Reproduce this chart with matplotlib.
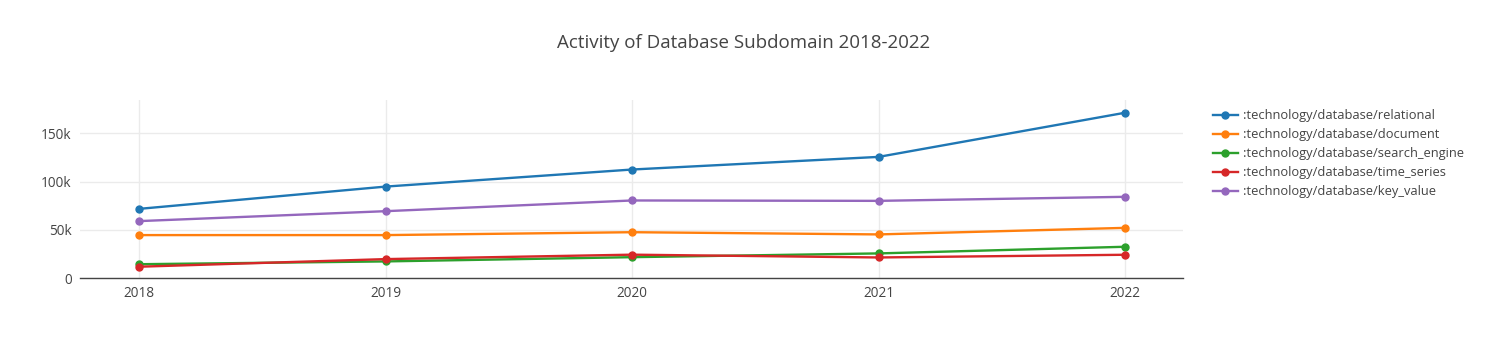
import matplotlib
matplotlib.use("Agg")
import matplotlib.pyplot as plt
from matplotlib.ticker import FuncFormatter

plt.rcParams['font.family'] = ['Open Sans', 'DejaVu Sans']

years = [2018, 2019, 2020, 2021, 2022]
relational = [71700, 94800, 112500, 125600, 171400]
document = [44500, 44500, 47500, 45200, 52000]
search_engine = [14300, 17200, 21600, 25500, 32400]
time_series = [11700, 19600, 24200, 21300, 24100]
key_value = [59000, 69300, 80400, 80000, 84200]

series = [
    (":technology/database/relational", relational, "#1f77b4"),
    (":technology/database/document", document, "#ff7f0e"),
    (":technology/database/search_engine", search_engine, "#2ca02c"),
    (":technology/database/time_series", time_series, "#d62728"),
    (":technology/database/key_value", key_value, "#9467bd"),
]

fig = plt.figure(figsize=(14.88, 3.6), dpi=100)
ax = fig.add_axes([80 / 1488, 82 / 360, 1103 / 1488, 178 / 360])

for name, vals, col in series:
    ax.plot(years, vals, color=col, lw=1.7, marker="o", ms=5, label=name)

ax.set_xlim(2017.76, 2022.235)
ax.set_ylim(0, 184600)
ax.set_xticks(years)
ax.set_yticks([0, 50000, 100000, 150000])
ax.yaxis.set_major_formatter(FuncFormatter(lambda v, p: "0" if v == 0 else f"{int(v / 1000)}k"))
ax.grid(color="#ebebeb", lw=1)
ax.set_axisbelow(True)
for s in ["top", "right", "left"]:
    ax.spines[s].set_visible(False)
ax.spines["bottom"].set_color("#444444")
ax.spines["bottom"].set_linewidth(1)
ax.tick_params(length=0, labelsize=9.8, colors="#444444", pad=6)

fig.suptitle("Activity of Database Subdomain 2018-2022", x=0.5, y=1 - 43 / 360,
             va="center", fontsize=13.5, color="#444444")

fig.legend(loc="upper left", bbox_to_anchor=(1208 / 1488, 1 - 104 / 360),
           frameon=False, fontsize=9.3, handlelength=1.9, labelspacing=0.47,
           handletextpad=0.4, labelcolor="#444444", borderaxespad=0)

fig.savefig("out.png", dpi=100)
